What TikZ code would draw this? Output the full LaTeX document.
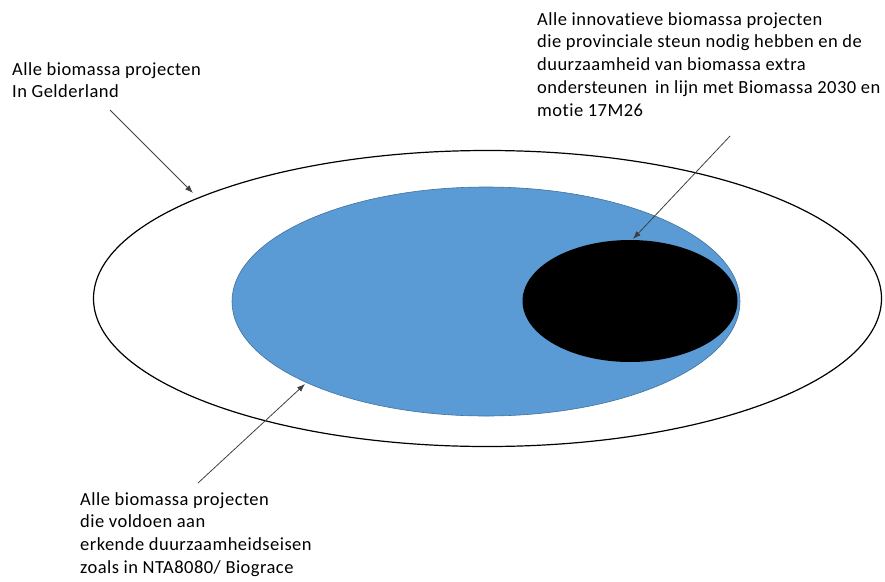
\documentclass[tikz,border=0pt]{standalone}
\usepackage{fontspec}
\setmainfont{Carlito}[LetterSpace=2.5,Ligatures={NoCommon,NoDiscretionary,NoContextual}]
\usetikzlibrary{shapes.geometric,arrows.meta}
\definecolor{blueset}{HTML}{5B9BD5}
\definecolor{blueline}{HTML}{41719C}
\tikzset{
  lbl/.style={anchor=north west,inner sep=0pt,align=left,font=\fontsize{18.5}{22.8}\selectfont},
  ptr/.style={draw=black!75,line width=0.8pt,-{Latex[length=8pt,width=6pt]}},
  oval/.style={ellipse,inner sep=0pt}
}
\begin{document}
\begin{tikzpicture}[x=1pt,y=-1pt]
\useasboundingbox (0,0) rectangle (885,581);
\node[oval,draw=black,line width=1.2pt,fill=white,minimum width=788pt,minimum height=296pt] (outer) at (487.5,298.5) {};
\node[oval,draw=blueline,line width=0.6pt,fill=blueset,minimum width=508pt,minimum height=229pt] (blue) at (486,301.5) {};
\node[oval,fill=black,minimum width=215pt,minimum height=122pt] (black) at (630,301) {};
\node[lbl] (t1) at (12,62) {Alle biomassa projecten\\In Gelderland};
\node[lbl] (t2) at (537,12) {Alle innova{}tieve biomassa projecten\\die provinciale steun nodig hebben en de\\duurzaamheid van biomassa extra\\ondersteunen\, in lijn met Biomassa 2030 en\\mo{}tie 17M26};
\node[lbl] (t3) at (80,492) {Alle biomassa projecten\\die voldoen aan\\erkende duurzaamheidseisen\\zoals in NTA8080/ Biograce};
\coordinate (s1) at (110,110);
\coordinate (e1) at (193,193);
\coordinate (s2) at (730,136);
\coordinate (e2) at (633,239);
\coordinate (s3) at (198,483);
\coordinate (e3) at (305,384);
\draw[ptr] (s1) -- (e1);
\draw[ptr] (s2) -- (e2);
\draw[ptr] (s3) -- (e3);
\end{tikzpicture}
\end{document}
